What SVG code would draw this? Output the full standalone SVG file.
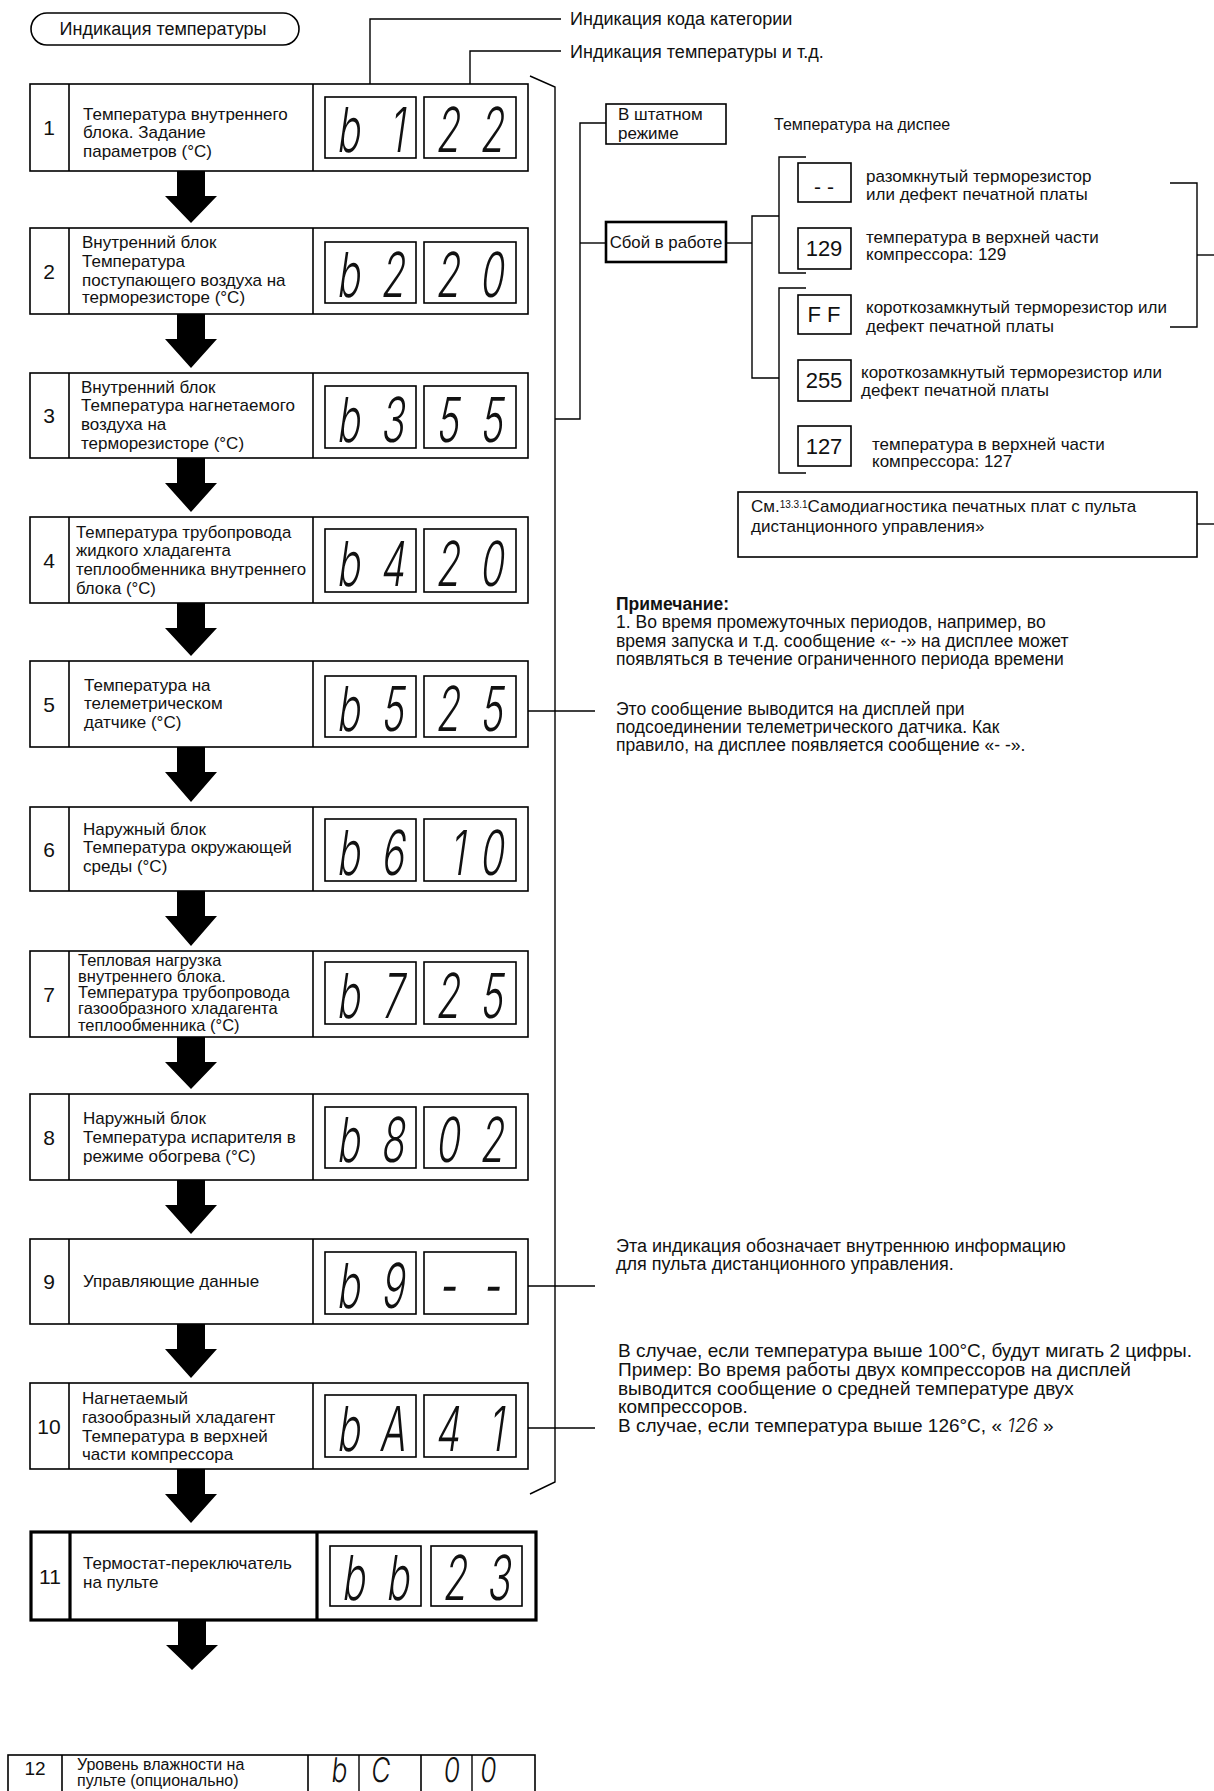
<svg xmlns="http://www.w3.org/2000/svg" width="1214" height="1791" viewBox="0 0 1214 1791">
<defs>
<style>
.bg{fill:#fff}
.box{fill:#fff;stroke:#000;stroke-width:1.6}
.thk{fill:#fff;stroke:#000;stroke-width:3.2}
.div{stroke:#000;stroke-width:1.6}
.divt{stroke:#000;stroke-width:3.2}
.ln{fill:none;stroke:#000;stroke-width:1.4}
.t{font-family:"Liberation Sans",Arial,sans-serif;font-size:17px;fill:#111}
.r{font-size:17.5px}
.num{font-family:"Liberation Sans",Arial,sans-serif;font-size:21px;fill:#111;text-anchor:middle}
.seg{font-family:Inter,"DejaVu Sans",sans-serif;font-weight:300;font-size:62px;fill:#111;text-anchor:middle}
.arr{fill:#000}
.b{font-weight:bold}
</style>
</defs>
<rect class="bg" x="0" y="0" width="1214" height="1791"/>

<g id="title">
<rect x="31" y="13" width="268" height="32" rx="16" ry="16" fill="#fff" stroke="#000" stroke-width="1.6"/>
<text class="t" x="163" y="35" text-anchor="middle" style="font-size:18px">Индикация температуры</text>
</g>

<g id="connectors">
<polyline class="ln" points="370,100 370,19 561,19"/>
<polyline class="ln" points="470,100 470,51 561,51"/>
<polyline class="ln" points="530,76 555,87 555,1482 530,1494"/>
<polyline class="ln" points="555,419 580,419 580,123 606,123"/>
<line class="ln" x1="580" y1="243" x2="606" y2="243"/>
<line class="ln" x1="726" y1="243" x2="752" y2="243"/>
<polyline class="ln" points="779,216 752,216 752,378 779,378"/>
<polyline class="ln" points="806,157 779,157 779,273 806,273"/>
<polyline class="ln" points="806,288 779,288 779,473 806,473"/>
<polyline class="ln" points="1170,183 1197,183 1197,327 1170,327"/>
<line class="ln" x1="1197" y1="255" x2="1214" y2="255"/>
<line class="ln" x1="1197" y1="524" x2="1214" y2="524"/>
<line class="ln" x1="509" y1="711" x2="595" y2="711"/>
<line class="ln" x1="509" y1="1286" x2="595" y2="1286"/>
<line class="ln" x1="509" y1="1428" x2="595" y2="1428"/>
<path class="arr" d="M177,171H205V196H217L191,223L165,196H177Z"/>
<path class="arr" d="M177,314H205V339H217L191,368L165,339H177Z"/>
<path class="arr" d="M177,458H205V483H217L191,512L165,483H177Z"/>
<path class="arr" d="M177,603H205V628H217L191,656L165,628H177Z"/>
<path class="arr" d="M177,747H205V772H217L191,802L165,772H177Z"/>
<path class="arr" d="M177,891H205V916H217L191,946L165,916H177Z"/>
<path class="arr" d="M177,1037H205V1062H217L191,1089L165,1062H177Z"/>
<path class="arr" d="M177,1180H205V1205H217L191,1234L165,1205H177Z"/>
<path class="arr" d="M177,1324H205V1349H217L191,1378L165,1349H177Z"/>
<path class="arr" d="M177,1469H205V1494H217L191,1523L165,1494H177Z"/>
<path class="arr" d="M178,1620H206V1645H218L192,1670L166,1645H178Z"/>
</g>

<g id="labels">
<text class="t" x="570" y="25" style="font-size:18px">Индикация кода категории</text>
<text class="t" x="570" y="58" style="font-size:18px">Индикация температуры и т.д.</text>
</g>

<g id="row1">
<rect class="box" x="30" y="84" width="498" height="87"/>
<line class="div" x1="69" y1="84" x2="69" y2="171"/><line class="div" x1="313" y1="84" x2="313" y2="171"/>
<text class="num" x="49" y="135">1</text>
<text class="t"><tspan x="83" y="120">Температура внутреннего</tspan><tspan x="83" y="138">блока. Задание</tspan><tspan x="83" y="157">параметров (°C)</tspan></text>
<rect class="box" x="325" y="97" width="91" height="61"/><rect class="box" x="424" y="97" width="92" height="61"/>
<text class="seg" transform="translate(325,152) skewX(-8) scale(0.62,1)"><tspan x="37">b</tspan><tspan x="115">1</tspan></text>
<text class="seg" transform="translate(424,152) skewX(-8) scale(0.62,1)"><tspan x="37">2</tspan><tspan x="108">2</tspan></text>
</g>

<g id="row2">
<rect class="box" x="30" y="228" width="498" height="86"/>
<line class="div" x1="69" y1="228" x2="69" y2="314"/><line class="div" x1="313" y1="228" x2="313" y2="314"/>
<text class="num" x="49" y="279">2</text>
<text class="t"><tspan x="82" y="248">Внутренний блок</tspan><tspan x="82" y="267">Температура</tspan><tspan x="82" y="286">поступающего воздуха на</tspan><tspan x="82" y="303">терморезисторе (°C)</tspan></text>
<rect class="box" x="325" y="242" width="91" height="61"/><rect class="box" x="424" y="242" width="92" height="61"/>
<text class="seg" transform="translate(325,297) skewX(-8) scale(0.62,1)"><tspan x="37">b</tspan><tspan x="108">2</tspan></text>
<text class="seg" transform="translate(424,297) skewX(-8) scale(0.62,1)"><tspan x="37">2</tspan><tspan x="108">0</tspan></text>
</g>

<g id="row3">
<rect class="box" x="30" y="373" width="498" height="85"/>
<line class="div" x1="69" y1="373" x2="69" y2="458"/><line class="div" x1="313" y1="373" x2="313" y2="458"/>
<text class="num" x="49" y="423">3</text>
<text class="t"><tspan x="81" y="393">Внутренний блок</tspan><tspan x="81" y="411">Температура нагнетаемого</tspan><tspan x="81" y="430">воздуха на</tspan><tspan x="81" y="449">терморезисторе (°C)</tspan></text>
<rect class="box" x="325" y="386" width="91" height="62"/><rect class="box" x="424" y="386" width="92" height="62"/>
<text class="seg" transform="translate(325,442) skewX(-8) scale(0.62,1)"><tspan x="37">b</tspan><tspan x="108">3</tspan></text>
<text class="seg" transform="translate(424,442) skewX(-8) scale(0.62,1)"><tspan x="37">5</tspan><tspan x="108">5</tspan></text>
</g>

<g id="row4">
<rect class="box" x="30" y="517" width="498" height="86"/>
<line class="div" x1="69" y1="517" x2="69" y2="603"/><line class="div" x1="313" y1="517" x2="313" y2="603"/>
<text class="num" x="49" y="568">4</text>
<text class="t" style="font-size:16.8px"><tspan x="76" y="538">Температура трубопровода</tspan><tspan x="76" y="556">жидкого хладагента</tspan><tspan x="76" y="575">теплообменника внутреннего</tspan><tspan x="76" y="594">блока (°C)</tspan></text>
<rect class="box" x="325" y="529" width="91" height="63"/><rect class="box" x="424" y="529" width="92" height="63"/>
<text class="seg" transform="translate(325,586) skewX(-8) scale(0.62,1)"><tspan x="37">b</tspan><tspan x="108">4</tspan></text>
<text class="seg" transform="translate(424,586) skewX(-8) scale(0.62,1)"><tspan x="37">2</tspan><tspan x="108">0</tspan></text>
</g>

<g id="row5">
<rect class="box" x="30" y="661" width="498" height="86"/>
<line class="div" x1="69" y1="661" x2="69" y2="747"/><line class="div" x1="313" y1="661" x2="313" y2="747"/>
<text class="num" x="49" y="712">5</text>
<text class="t"><tspan x="84" y="691">Температура на</tspan><tspan x="84" y="709">телеметрическом</tspan><tspan x="84" y="728">датчике (°C)</tspan></text>
<rect class="box" x="325" y="676" width="91" height="61"/><rect class="box" x="424" y="676" width="92" height="61"/>
<text class="seg" transform="translate(325,731) skewX(-8) scale(0.62,1)"><tspan x="37">b</tspan><tspan x="108">5</tspan></text>
<text class="seg" transform="translate(424,731) skewX(-8) scale(0.62,1)"><tspan x="37">2</tspan><tspan x="108">5</tspan></text>
</g>

<g id="row6">
<rect class="box" x="30" y="807" width="498" height="84"/>
<line class="div" x1="69" y1="807" x2="69" y2="891"/><line class="div" x1="313" y1="807" x2="313" y2="891"/>
<text class="num" x="49" y="857">6</text>
<text class="t"><tspan x="83" y="835">Наружный блок</tspan><tspan x="83" y="853">Температура окружающей</tspan><tspan x="83" y="872">среды (°C)</tspan></text>
<rect class="box" x="325" y="819" width="91" height="62"/><rect class="box" x="424" y="819" width="92" height="62"/>
<text class="seg" transform="translate(325,875) skewX(-8) scale(0.62,1)"><tspan x="37">b</tspan><tspan x="108">6</tspan></text>
<text class="seg" transform="translate(424,875) skewX(-8) scale(0.62,1)"><tspan x="53">1</tspan><tspan x="108">0</tspan></text>
</g>

<g id="row7">
<rect class="box" x="30" y="951" width="498" height="86"/>
<line class="div" x1="69" y1="951" x2="69" y2="1037"/><line class="div" x1="313" y1="951" x2="313" y2="1037"/>
<text class="num" x="49" y="1002">7</text>
<text class="t" style="font-size:16.5px"><tspan x="78" y="966">Тепловая нагрузка</tspan><tspan x="78" y="982">внутреннего блока.</tspan><tspan x="78" y="998">Температура трубопровода</tspan><tspan x="78" y="1014">газообразного хладагента</tspan><tspan x="78" y="1031">теплообменника (°C)</tspan></text>
<rect class="box" x="325" y="962" width="91" height="62"/><rect class="box" x="424" y="962" width="92" height="62"/>
<text class="seg" transform="translate(325,1018) skewX(-8) scale(0.62,1)"><tspan x="37">b</tspan><tspan x="108">7</tspan></text>
<text class="seg" transform="translate(424,1018) skewX(-8) scale(0.62,1)"><tspan x="37">2</tspan><tspan x="108">5</tspan></text>
</g>

<g id="row8">
<rect class="box" x="30" y="1094" width="498" height="86"/>
<line class="div" x1="69" y1="1094" x2="69" y2="1180"/><line class="div" x1="313" y1="1094" x2="313" y2="1180"/>
<text class="num" x="49" y="1145">8</text>
<text class="t"><tspan x="83" y="1124">Наружный блок</tspan><tspan x="83" y="1143">Температура испарителя в</tspan><tspan x="83" y="1162">режиме обогрева (°C)</tspan></text>
<rect class="box" x="325" y="1107" width="91" height="61"/><rect class="box" x="424" y="1107" width="92" height="61"/>
<text class="seg" transform="translate(325,1162) skewX(-8) scale(0.62,1)"><tspan x="37">b</tspan><tspan x="108">8</tspan></text>
<text class="seg" transform="translate(424,1162) skewX(-8) scale(0.62,1)"><tspan x="37">0</tspan><tspan x="108">2</tspan></text>
</g>

<g id="row9">
<rect class="box" x="30" y="1239" width="498" height="85"/>
<line class="div" x1="69" y1="1239" x2="69" y2="1324"/><line class="div" x1="313" y1="1239" x2="313" y2="1324"/>
<text class="num" x="49" y="1289">9</text>
<text class="t" x="83" y="1287">Управляющие данные</text>
<rect class="box" x="325" y="1252" width="91" height="62"/><rect class="box" x="424" y="1252" width="92" height="62"/>
<text class="seg" transform="translate(325,1308) skewX(-8) scale(0.62,1)"><tspan x="37">b</tspan><tspan x="108">9</tspan></text>
<text class="seg" transform="translate(424,1308) skewX(-8) scale(0.62,1)"><tspan x="37">-</tspan><tspan x="108">-</tspan></text>
</g>

<g id="row10">
<rect class="box" x="30" y="1383" width="498" height="86"/>
<line class="div" x1="69" y1="1383" x2="69" y2="1469"/><line class="div" x1="313" y1="1383" x2="313" y2="1469"/>
<text class="num" x="49" y="1434">10</text>
<text class="t"><tspan x="82" y="1404">Нагнетаемый</tspan><tspan x="82" y="1423">газообразный хладагент</tspan><tspan x="82" y="1442">Температура в верхней</tspan><tspan x="82" y="1460">части компрессора</tspan></text>
<rect class="box" x="325" y="1395" width="91" height="62"/><rect class="box" x="424" y="1395" width="92" height="62"/>
<text class="seg" transform="translate(325,1451) skewX(-8) scale(0.62,1)"><tspan x="37">b</tspan><tspan x="108">A</tspan></text>
<text class="seg" transform="translate(424,1451) skewX(-8) scale(0.62,1)"><tspan x="37">4</tspan><tspan x="115">1</tspan></text>
</g>

<g id="row11">
<rect class="thk" x="31" y="1532" width="505" height="88"/>
<line class="divt" x1="70" y1="1532" x2="70" y2="1620"/><line class="divt" x1="317" y1="1532" x2="317" y2="1620"/>
<text class="num" x="50" y="1584">11</text>
<text class="t"><tspan x="83" y="1569">Термостат-переключатель</tspan><tspan x="83" y="1588">на пульте</tspan></text>
<rect class="box" x="330" y="1546" width="91" height="60"/><rect class="box" x="431" y="1546" width="91" height="60"/>
<text class="seg" transform="translate(330,1600) skewX(-8) scale(0.62,1)"><tspan x="37">b</tspan><tspan x="108">b</tspan></text>
<text class="seg" transform="translate(431,1600) skewX(-8) scale(0.62,1)"><tspan x="37">2</tspan><tspan x="108">3</tspan></text>
</g>

<g id="row12">
<rect class="box" x="8" y="1755" width="527" height="50"/>
<line class="div" x1="62" y1="1755" x2="62" y2="1791"/><line class="div" x1="308" y1="1755" x2="308" y2="1791"/>
<line class="div" x1="421" y1="1755" x2="421" y2="1791"/>
<line class="ln" x1="359" y1="1755" x2="359" y2="1791"/><line class="ln" x1="472" y1="1755" x2="472" y2="1791"/>
<text class="num" x="35" y="1775" style="font-size:19px">12</text>
<text class="t" style="font-size:16px"><tspan x="77" y="1770">Уровень влажности на</tspan><tspan x="77" y="1786">пульте (опционально)</tspan></text>
<text class="seg" style="font-size:34px" transform="translate(0,1782) skewX(-6) scale(0.78,1)"><tspan x="434">b</tspan><tspan x="487">C</tspan><tspan x="578">0</tspan><tspan x="625">0</tspan></text>
</g>

<g id="normal">
<rect class="box" x="606" y="104" width="120" height="40"/>
<text class="t"><tspan x="618" y="120">В штатном</tspan><tspan x="618" y="139">режиме</tspan></text>
</g>
<text class="t" x="774" y="130" style="font-size:16px">Температура на диспее</text>

<g id="fault">
<rect x="606" y="222" width="120" height="40" fill="#fff" stroke="#000" stroke-width="2.6"/>
<text class="t" x="666" y="248" text-anchor="middle" style="font-size:16.8px">Сбой в работе</text>
</g>

<g id="f1">
<rect class="box" x="798" y="163" width="53" height="39"/>
<text class="num" x="824" y="194">- -</text>
<text class="t"><tspan x="866" y="182">разомкнутый терморезистор</tspan><tspan x="866" y="200">или дефект печатной платы</tspan></text>
</g>
<g id="f2">
<rect class="box" x="798" y="228" width="53" height="41"/>
<text class="num" x="824" y="256" style="font-size:22px">129</text>
<text class="t"><tspan x="866" y="243">температура в верхней части</tspan><tspan x="866" y="260">компрессора: 129</tspan></text>
</g>
<g id="f3">
<rect class="box" x="798" y="295" width="53" height="39"/>
<text class="num" x="824" y="322" style="font-size:22px">F F</text>
<text class="t"><tspan x="866" y="313">короткозамкнутый терморезистор или</tspan><tspan x="866" y="332">дефект печатной платы</tspan></text>
</g>
<g id="f4">
<rect class="box" x="798" y="360" width="53" height="41"/>
<text class="num" x="824" y="388" style="font-size:22px">255</text>
<text class="t"><tspan x="861" y="378">короткозамкнутый терморезистор или</tspan><tspan x="861" y="396">дефект печатной платы</tspan></text>
</g>
<g id="f5">
<rect class="box" x="798" y="426" width="53" height="40"/>
<text class="num" x="824" y="454" style="font-size:22px">127</text>
<text class="t"><tspan x="872" y="450">температура в верхней части</tspan><tspan x="872" y="467">компрессора: 127</tspan></text>
</g>

<g id="see">
<rect class="box" x="738" y="492" width="459" height="65"/>
<text class="t"><tspan x="751" y="512">См.</tspan><tspan font-size="10" dy="-4">13.3.1</tspan><tspan dy="4">Самодиагностика печатных плат с пульта</tspan><tspan x="751" y="532">дистанционного управления»</tspan></text>
</g>

<g id="note">
<text class="t r"><tspan x="616" y="610" class="b">Примечание:</tspan><tspan x="616" y="628">1. Во время промежуточных периодов, например, во</tspan><tspan x="616" y="647">время запуска и т.д. сообщение «- -» на дисплее может</tspan><tspan x="616" y="665">появляться в течение ограниченного периода времени</tspan></text>
</g>

<g id="note5">
<text class="t r"><tspan x="616" y="715">Это сообщение выводится на дисплей при</tspan><tspan x="616" y="733">подсоединении телеметрического датчика. Как</tspan><tspan x="616" y="751">правило, на дисплее появляется сообщение «- -».</tspan></text>
</g>

<g id="note9">
<text class="t" style="font-size:18px"><tspan x="616" y="1252">Эта индикация обозначает внутреннюю информацию</tspan><tspan x="616" y="1270">для пульта дистанционного управления.</tspan></text>
</g>

<g id="note10">
<text class="t" style="font-size:19px"><tspan x="618" y="1357">В случае, если температура выше 100°С, будут мигать 2 цифры.</tspan><tspan x="618" y="1376">Пример: Во время работы двух компрессоров на дисплей</tspan><tspan x="618" y="1395">выводится сообщение о средней температуре двух</tspan><tspan x="618" y="1413">компрессоров.</tspan><tspan x="618" y="1432">В случае, если температура выше 126°С, « </tspan><tspan font-style="italic" font-weight="300" font-family="Inter, sans-serif">126</tspan><tspan> »</tspan></text>
</g>
</svg>
